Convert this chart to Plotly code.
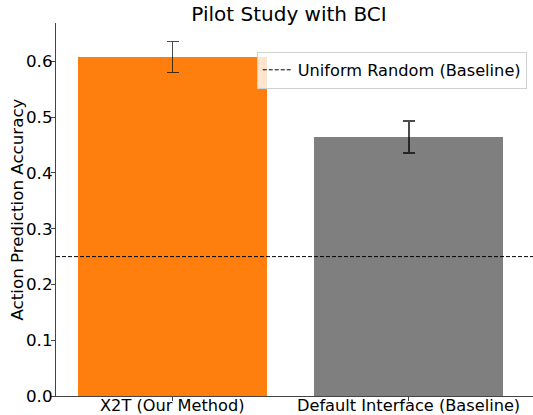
import plotly.graph_objects as go

categories = ["X2T (Our Method)", "Default Interface (Baseline)"]
accuracy = [0.608, 0.4645]
errors = [0.028, 0.029]
bar_colors = ["#ff7f0e", "#7f7f7f"]
baseline_value = 0.25
baseline_name = "Uniform Random (Baseline)"
y_ticks = [0.0, 0.1, 0.2, 0.3, 0.4, 0.5, 0.6]
y_tick_labels = ["0.0", "0.1", "0.2", "0.3", "0.4", "0.5", "0.6"]
y_title = "Action Prediction Accuracy"
chart_title = "Pilot Study with BCI"

W, H = 533, 415
L, T = 56, 23
B = H - 395.7
R = 0
FS = 16.7

x_idx = list(range(len(categories)))

fig = go.Figure()
fig.add_trace(go.Bar(
    x=x_idx, y=accuracy, width=0.8,
    marker=dict(color=bar_colors, line=dict(width=0)),
    error_y=dict(type="data", array=errors, visible=True,
                 color="rgba(0,0,0,0.7)", thickness=1.5, width=6),
    showlegend=False, hoverinfo="y",
))
fig.add_trace(go.Scatter(
    x=[0, 1], y=[baseline_value, baseline_value], xaxis="x2",
    mode="lines", name=baseline_name,
    line=dict(color="black", width=1, dash="4px,2px"),
))

for i, c in zip(x_idx, categories):
    fig.add_annotation(x=i, y=0, xref="x", yref="y", text=c, showarrow=False,
                       xanchor="center", yanchor="top", yshift=1,
                       font=dict(size=16.2), borderpad=0)

plot_w = W - L - R
fig.add_annotation(x=(16 - L) / plot_w, y=0.5, xref="paper", yref="paper", text=y_title,
                   textangle=-90, showarrow=False, xanchor="center", yanchor="middle",
                   font=dict(size=FS), borderpad=0)

font = "DejaVu Sans, Verdana, sans-serif"
px_per_unit = 236.25
left_center = 172.5 - L
x_lo = -left_center / px_per_unit
x_hi = (plot_w - left_center) / px_per_unit

fig.update_layout(
    width=W, height=H,
    margin=dict(l=L, r=R, t=T, b=B, pad=0),
    paper_bgcolor="white", plot_bgcolor="white",
    font=dict(family=font, size=FS, color="black"),
    title=dict(text=chart_title, x=289 / W, xanchor="center",
               y=1 - 14 / H, yanchor="middle", font=dict(size=20)),
    bargap=0,
    xaxis=dict(range=[x_lo, x_hi], tickmode="array", tickvals=x_idx,
               ticktext=["", ""], showgrid=False, zeroline=False,
               showline=True, linecolor="#444", linewidth=1.2,
               ticks="outside", ticklen=4, tickcolor="#444",
               automargin=False, fixedrange=True),
    xaxis2=dict(range=[0, 1], overlaying="x", visible=False, fixedrange=True),
    yaxis=dict(range=[0, 0.669], tickmode="array", tickvals=y_ticks,
               ticktext=y_tick_labels, showgrid=False, zeroline=False,
               showline=True, linecolor="#444", linewidth=1.2,
               ticks="outside", ticklen=4, tickcolor="#444",
               tickfont=dict(size=FS), automargin=False,
               ticklabelstandoff=-5, fixedrange=True),
    legend=dict(x=526 / W, xanchor="right", y=1 - 32 / H, yanchor="top",
                bgcolor="rgba(255,255,255,0.8)", bordercolor="#d0d0d0", borderwidth=1,
                font=dict(size=16.2)),
    showlegend=True,
)

fig.write_html("out.html", config={"displayModeBar": False},
               post_script="document.body.style.margin='0';")
